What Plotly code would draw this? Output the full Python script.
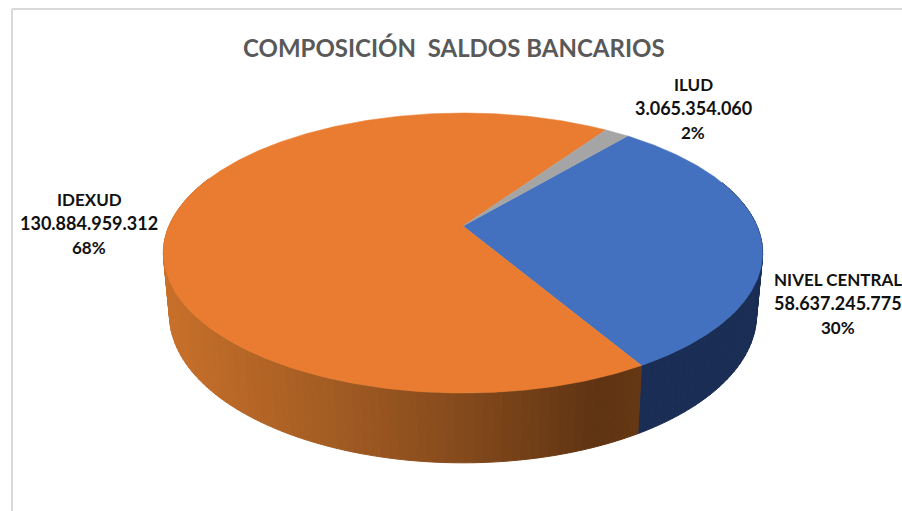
import numpy as np
import plotly.graph_objects as go

categories = ["NIVEL CENTRAL", "IDEXUD", "ILUD"]
values = [58637245775, 130884959312, 3065354060]
title_text = "COMPOSICIÓN\u00a0 SALDOS BANCARIOS"

slice_colors = ["#4371BF", "#E97C30", "#A5A5A5"]
first_angle = 40.0
label_xy = [(838, 303), (89, 223), (693, 108)]
label_line_gap = 24
label_sizes = [17, 18, 17]

# projection of the pie disc (pixel space)
CX, K = 463.0, -0.193
TOP = dict(R=294.0, A=226.0, B=91.2)
BOT = dict(R=288.0, A=286.0, B=87.5)


def project(theta_deg, plane, radius=1.0):
    t = np.radians(theta_deg)
    X, Y = radius * np.sin(t), -radius * np.cos(t)
    w = 1 + K * Y
    return CX + plane["R"] * X / w, (plane["A"] + plane["B"] * Y) / w


def side_color(x, base):
    if base == 0:
        return "#1A2E55"
    xs = [165, 300, 460, 600, 640]
    r = np.interp(x, xs, [200, 170, 133, 94, 103])
    g = np.interp(x, xs, [112, 96, 74, 51, 56])
    b = np.interp(x, xs, [42, 36, 28, 18, 20])
    return f"rgb({r:.0f},{g:.0f},{b:.0f})"


total = sum(values)
spans = [v / total * 360 for v in values]
starts = first_angle + np.concatenate([[0], np.cumsum(spans)[:-1]])

fig = go.Figure()

# side wall, only the part facing the viewer
for i, (s, sp) in enumerate(zip(starts, spans)):
    lo, hi = max(s, 70), min(s + sp, 292)
    if hi <= lo:
        continue
    edges = np.linspace(lo, hi, max(2, int((hi - lo) / 1.5) + 1))
    for a, b in zip(edges[:-1], edges[1:]):
        tt = np.linspace(a, b, 3)
        x1, y1 = project(tt, TOP)
        x2, y2 = project(tt[::-1], BOT)
        col = side_color((x1.mean() + x2.mean()) / 2, i)
        fig.add_trace(go.Scatter(
            x=np.r_[x1, x2, x1[0]], y=np.r_[y1, y2, y1[0]], mode="lines",
            fill="toself", fillcolor=col, line=dict(color=col, width=1),
            hoverinfo="skip", showlegend=False))

# top face
for i, (s, sp) in enumerate(zip(starts, spans)):
    tt = np.linspace(s, s + sp, max(3, int(sp * 2)))
    x, y = project(tt, TOP)
    fig.add_trace(go.Scatter(
        x=np.r_[CX, x, CX], y=np.r_[TOP["A"], y, TOP["A"]], mode="lines",
        fill="toself", fillcolor=slice_colors[i],
        line=dict(color=slice_colors[i], width=0.5),
        name=categories[i], hoverinfo="name", showlegend=False))

# data labels, one text per line to keep the wide line spacing
for c, v, (lx, ly) in zip(categories, values, label_xy):
    lines = [c, f"{v:,}".replace(",", "."), f"{v / total * 100:.0f}%"]
    for n, line in enumerate(lines):
        fig.add_annotation(x=lx, y=ly + (n - 1) * label_line_gap, text=f"<b>{line}</b>",
                           showarrow=False, align="center",
                           font=dict(family="Lato", size=label_sizes[n], color="#111111"))

fig.add_annotation(x=454, y=47, text=f"<b>{title_text}</b>", showarrow=False,
                   font=dict(family="Lato", size=24, color="#595959"))

# chart-area frame
border = dict(color="#D9D9D9", width=2)
fig.add_shape(type="line", x0=12, y0=9, x1=902, y1=9, line=border)
fig.add_shape(type="line", x0=12, y0=9, x1=12, y1=511, line=border)

fig.update_layout(
    width=902, height=511, margin=dict(l=0, r=0, t=0, b=0),
    paper_bgcolor="white", plot_bgcolor="white",
    xaxis=dict(range=[0, 902], visible=False, fixedrange=True),
    yaxis=dict(range=[511, 0], visible=False, fixedrange=True),
)
fig.write_html("out.html", config=dict(displayModeBar=False),
               post_script="document.body.style.margin='0';document.body.style.overflow='hidden';")
